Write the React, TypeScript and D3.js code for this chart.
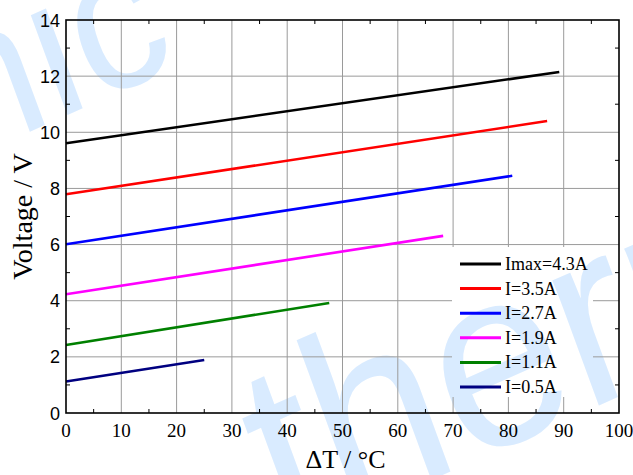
import { useMemo } from "react";
import * as d3 from "d3";

// values
const seriesNames = ["Imax=4.3A", "I=3.5A", "I=2.7A", "I=1.9A", "I=1.1A", "I=0.5A"];
const seriesColors = ["#000000", "#ff0000", "#0000ff", "#ff00ff", "#008000", "#000080"];
const dTStart = [0, 0, 0, 0, 0, 0];
const dTEnd = [89.2, 87.0, 80.7, 68.2, 47.6, 25.0];
const voltStart = [9.61, 7.79, 6.01, 4.23, 2.42, 1.12];
const voltEnd = [12.15, 10.4, 8.45, 6.31, 3.92, 1.89];

const xTickValues = [0, 10, 20, 30, 40, 50, 60, 70, 80, 90, 100];
const yTickValues = [0, 2, 4, 6, 8, 10, 12, 14];
const xMinorTicks = d3.range(5, 100, 10);
const yMinorTicks = d3.range(1, 14, 2);

const width = 633;
const height = 475;
const margin = { top: 20, right: 14, bottom: 62, left: 66 };

const serif = "'Liberation Serif', 'Times New Roman', serif";
const sans = "'Liberation Sans', Arial, sans-serif";

export default function App() {
  const x = useMemo(
    () => d3.scaleLinear().domain([0, 100]).range([margin.left, width - margin.right]),
    []
  );
  const y = useMemo(
    () => d3.scaleLinear().domain([0, 14]).range([height - margin.bottom, margin.top]),
    []
  );

  const line = d3
    .line<[number, number]>()
    .x((d) => x(d[0]))
    .y((d) => y(d[1]));

  const x0 = x(0);
  const x1 = x(100);
  const y0 = y(0);
  const y1 = y(14);

  // legend box (grid hidden behind it)
  const legX = 452;
  const legY = 247;
  const legW = 141;
  const legH = 150;
  const legStep = 24.6;

  return (
    <svg
      width={width}
      height={height}
      style={{ position: "absolute", left: 0, top: 0, background: "#fff" }}
    >
      <defs>
        <mask id="gridMask">
          <rect x={0} y={0} width={width} height={height} fill="#fff" />
          <rect x={legX} y={legY} width={legW} height={legH} fill="#000" />
        </mask>
      </defs>

      {/* watermark */}
      <g fill="#d9ebff" fontFamily={sans}>
        <text
          fontSize={185}
          textAnchor="end"
          transform="translate(180, 65) scale(1, 1.1) rotate(-22)"
        >
          thermonamic
        </text>
        <text fontSize={232} transform="translate(285, 545) scale(1, 1.1) rotate(-22)">
          thermonamic
        </text>
      </g>

      {/* grid */}
      <g mask="url(#gridMask)" stroke="#9a9a9a" strokeWidth={1}>
        {xTickValues.slice(1, -1).map((t) => (
          <line key={"gx" + t} x1={x(t)} x2={x(t)} y1={y0} y2={y1} />
        ))}
        {yTickValues.slice(1, -1).map((t) => (
          <line key={"gy" + t} x1={x0} x2={x1} y1={y(t)} y2={y(t)} />
        ))}
      </g>

      {/* minor ticks */}
      <g stroke="#000" strokeWidth={1}>
        {xMinorTicks.map((t) => (
          <g key={"mx" + t}>
            <line x1={x(t)} x2={x(t)} y1={y0} y2={y0 - 4} />
            <line x1={x(t)} x2={x(t)} y1={y1} y2={y1 + 4} />
          </g>
        ))}
        {yMinorTicks.map((t) => (
          <g key={"my" + t}>
            <line x1={x0} x2={x0 + 4} y1={y(t)} y2={y(t)} />
            <line x1={x1} x2={x1 - 4} y1={y(t)} y2={y(t)} />
          </g>
        ))}
      </g>

      {/* data lines */}
      <g fill="none" strokeWidth={2.6} strokeLinecap="butt">
        {seriesNames.map((name, i) => (
          <path
            key={name}
            d={line([
              [dTStart[i], voltStart[i]],
              [dTEnd[i], voltEnd[i]],
            ]) ?? ""}
            stroke={seriesColors[i]}
          />
        ))}
      </g>

      {/* frame */}
      <rect
        x={x0}
        y={y1}
        width={x1 - x0}
        height={y0 - y1}
        fill="none"
        stroke="#000"
        strokeWidth={1.6}
      />

      {/* x tick labels */}
      <g fontFamily={serif} fontSize={19} textAnchor="middle" fill="#000">
        {xTickValues.map((t) => (
          <text key={"lx" + t} x={x(t)} y={y0 + 24}>
            {t}
          </text>
        ))}
      </g>

      {/* y tick labels */}
      <g fontFamily={sans} fontSize={18} textAnchor="end" fill="#000">
        {yTickValues.map((t) => (
          <text key={"ly" + t} x={x0 - 6} y={y(t) + 6.5}>
            {t}
          </text>
        ))}
      </g>

      {/* axis titles */}
      <text
        x={(x0 + x1) / 2 + 3}
        y={468}
        fontFamily={serif}
        fontSize={26}
        textAnchor="middle"
      >
        ΔT / °C
      </text>
      <text
        transform={`translate(32, ${(y0 + y1) / 2}) rotate(-90)`}
        fontFamily={serif}
        fontSize={28}
        textAnchor="middle"
      >
        Voltage / V
      </text>

      {/* legend */}
      <g>
        {seriesNames.map((name, i) => {
          const cy = 264 + i * legStep;
          return (
            <g key={"leg" + name}>
              <line x1={460} x2={501} y1={cy} y2={cy} stroke={seriesColors[i]} strokeWidth={3} />
              <text x={505} y={cy + 6} fontFamily={serif} fontSize={18} fill="#000">
                {name}
              </text>
            </g>
          );
        })}
      </g>
    </svg>
  );
}
